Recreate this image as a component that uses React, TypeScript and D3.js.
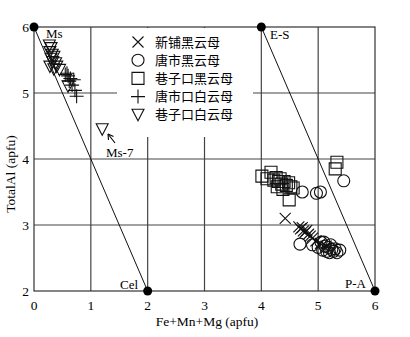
import React from "react";
import { scaleLinear, line } from "d3";

// 新铺黑云母 (×)
const xinpuBiotite: [number, number][] = [
  [4.42, 3.1], [4.66, 2.97], [4.69, 2.94], [4.72, 2.96], [4.74, 2.91],
  [4.77, 2.89], [4.8, 2.92], [4.83, 2.86], [4.86, 2.83], [4.9, 2.8],
  [4.96, 2.76], [5.04, 2.72], [5.14, 2.68],
];
// 唐市黑云母 (○)
const tangshiBiotite: [number, number][] = [
  [4.72, 3.5], [4.97, 3.48], [5.04, 3.5], [5.45, 3.67],
  [4.68, 2.71], [4.9, 2.7], [5.0, 2.66], [5.05, 2.74], [5.08, 2.62],
  [5.12, 2.68], [5.15, 2.6], [5.18, 2.66], [5.2, 2.58], [5.24, 2.63],
  [5.27, 2.6], [5.3, 2.64], [5.33, 2.58], [5.38, 2.62], [5.1, 2.74],
  [5.22, 2.7],
];
// 巷子口黑云母 (□)
const xiangzikouBiotite: [number, number][] = [
  [4.01, 3.74], [4.1, 3.7], [4.17, 3.8], [4.22, 3.68], [4.26, 3.72],
  [4.3, 3.66], [4.33, 3.7], [4.36, 3.62], [4.4, 3.66], [4.44, 3.6],
  [4.48, 3.64], [4.52, 3.58], [4.56, 3.56], [4.28, 3.58], [4.38, 3.54],
  [4.49, 3.38], [5.33, 3.95], [5.3, 3.85],
];
// 唐市口白云母 (+)
const tangshikouMuscovite: [number, number][] = [
  [0.55, 5.28], [0.6, 5.26], [0.64, 5.22], [0.62, 5.18], [0.7, 5.2],
  [0.67, 5.12], [0.72, 5.04], [0.75, 4.95], [0.58, 5.3],
];
// 巷子口白云母 (▽)
const xiangzikouMuscovite: [number, number][] = [
  [0.27, 5.72], [0.3, 5.68], [0.28, 5.62], [0.32, 5.58], [0.3, 5.52],
  [0.35, 5.55], [0.33, 5.47], [0.38, 5.45], [0.4, 5.4], [0.28, 5.4],
  [0.45, 5.35], [0.35, 5.36], [0.6, 5.1], [1.2, 4.45],
];

const xTicks = [0, 1, 2, 3, 4, 5, 6];
const yTicks = [2, 3, 4, 5, 6];
const endMembers = [
  { name: "Ms", x: 0, y: 6 },
  { name: "Cel", x: 2, y: 2 },
  { name: "E-S", x: 4, y: 6 },
  { name: "P-A", x: 6, y: 2 },
];
const legendNames = ["新铺黑云母", "唐市黑云母", "巷子口黑云母", "唐市口白云母", "巷子口白云母"];
const symbolKinds = ["x", "circle", "square", "plus", "tri"];
const seriesList = [xinpuBiotite, tangshiBiotite, xiangzikouBiotite, tangshikouMuscovite, xiangzikouMuscovite];

const W = 410;
const H = 337;
const serif = "'Liberation Serif', 'DejaVu Serif', serif";

function symbolPath(kind: string, cx: number, cy: number): string {
  const r = 6;
  switch (kind) {
    case "x":
      return `M${cx - 5.5},${cy - 5.5}L${cx + 5.5},${cy + 5.5}M${cx - 5.5},${cy + 5.5}L${cx + 5.5},${cy - 5.5}`;
    case "plus":
      return `M${cx - 7},${cy}L${cx + 7},${cy}M${cx},${cy - 7}L${cx},${cy + 7}`;
    case "square":
      return `M${cx - r},${cy - r}h${2 * r}v${2 * r}h${-2 * r}Z`;
    case "tri":
      return `M${cx - 6},${cy - 5.5}L${cx + 6},${cy - 5.5}L${cx},${cy + 6}Z`;
    default:
      return `M${cx + r},${cy}A${r},${r} 0 1,1 ${cx - r},${cy}A${r},${r} 0 1,1 ${cx + r},${cy}Z`;
  }
}

export default function App() {
  const x = scaleLinear().domain([0, 6]).range([34, 375]);
  const y = scaleLinear().domain([2, 6]).range([291, 27]);
  const seg = line<[number, number]>().x((d) => x(d[0])).y((d) => y(d[1]));

  const legend = { x: 117, y: 27, w: 136, h: 109 };

  return (
    <svg
      width={W}
      height={H}
      style={{ position: "absolute", left: 0, top: 0, background: "#fff" }}
      fontFamily={serif}
    >
      {/* grid */}
      {xTicks.slice(1, -1).map((t) => (
        <line key={"gx" + t} x1={x(t)} x2={x(t)} y1={y(2)} y2={y(6)} stroke="#444" strokeWidth={1.2} />
      ))}
      {yTicks.slice(1, -1).map((t) => (
        <line key={"gy" + t} x1={x(0)} x2={x(6)} y1={y(t)} y2={y(t)} stroke="#444" strokeWidth={1.2} />
      ))}

      {/* legend background hides grid */}
      <rect x={legend.x} y={legend.y + 1} width={legend.w} height={legend.h} fill="#fff" />

      {/* frame */}
      <rect x={x(0)} y={y(6)} width={x(6) - x(0)} height={y(2) - y(6)} fill="none" stroke="#333" strokeWidth={1.2} />

      {/* end-member joins */}
      <path d={seg([[0, 6], [2, 2]]) ?? ""} stroke="#111" strokeWidth={1} fill="none" />
      <path d={seg([[4, 6], [6, 2]]) ?? ""} stroke="#111" strokeWidth={1} fill="none" />

      {/* data */}
      {seriesList.map((s, i) =>
        s.map((d, j) => (
          <path
            key={i + "-" + j}
            d={symbolPath(symbolKinds[i], x(d[0]), y(d[1]))}
            fill="none"
            stroke="#111"
            strokeWidth={1.1}
          />
        ))
      )}

      {/* end-member points */}
      {endMembers.map((e) => (
        <circle key={e.name} cx={x(e.x)} cy={y(e.y)} r={4.5} fill="#000" />
      ))}
      <text x={46} y={38} fontSize={13}>Ms</text>
      <text x={270} y={39} fontSize={13}>E-S</text>
      <text x={120} y={289} fontSize={13}>Cel</text>
      <text x={345} y={288} fontSize={13}>P-A</text>

      {/* Ms-7 annotation */}
      <text x={106} y={157} fontSize={13}>Ms-7</text>
      <line x1={115} y1={143} x2={108} y2={134} stroke="#000" strokeWidth={1.1} />
      <path d="M108,134 L108.5,140 M108,134 L113.5,136.5" stroke="#000" strokeWidth={1.1} fill="none" />

      {/* ticks */}
      {xTicks.map((t) => (
        <text key={"xt" + t} x={x(t)} y={310} fontSize={13.5} textAnchor="middle">{t}</text>
      ))}
      {yTicks.map((t) => (
        <text key={"yt" + t} x={29} y={y(t) + 4.5} fontSize={13.5} textAnchor="end">{t}</text>
      ))}

      {/* axis titles */}
      <text x={207} y={326} fontSize={13.5} textAnchor="middle">Fe+Mn+Mg (apfu)</text>
      <text transform={`translate(15,174) rotate(-90)`} fontSize={13.5} textAnchor="middle">TotalAl (apfu)</text>

      {/* legend */}
      {legendNames.map((n, i) => {
        const cy = 42 + i * 18.2;
        return (
          <g key={n}>
            <path d={symbolPath(symbolKinds[i], 138, cy)} fill="none" stroke="#111" strokeWidth={1.1} />
            <text x={155} y={cy + 4.5} fontSize={13} fontFamily="'Noto Sans CJK SC', sans-serif">{n}</text>
          </g>
        );
      })}
    </svg>
  );
}
